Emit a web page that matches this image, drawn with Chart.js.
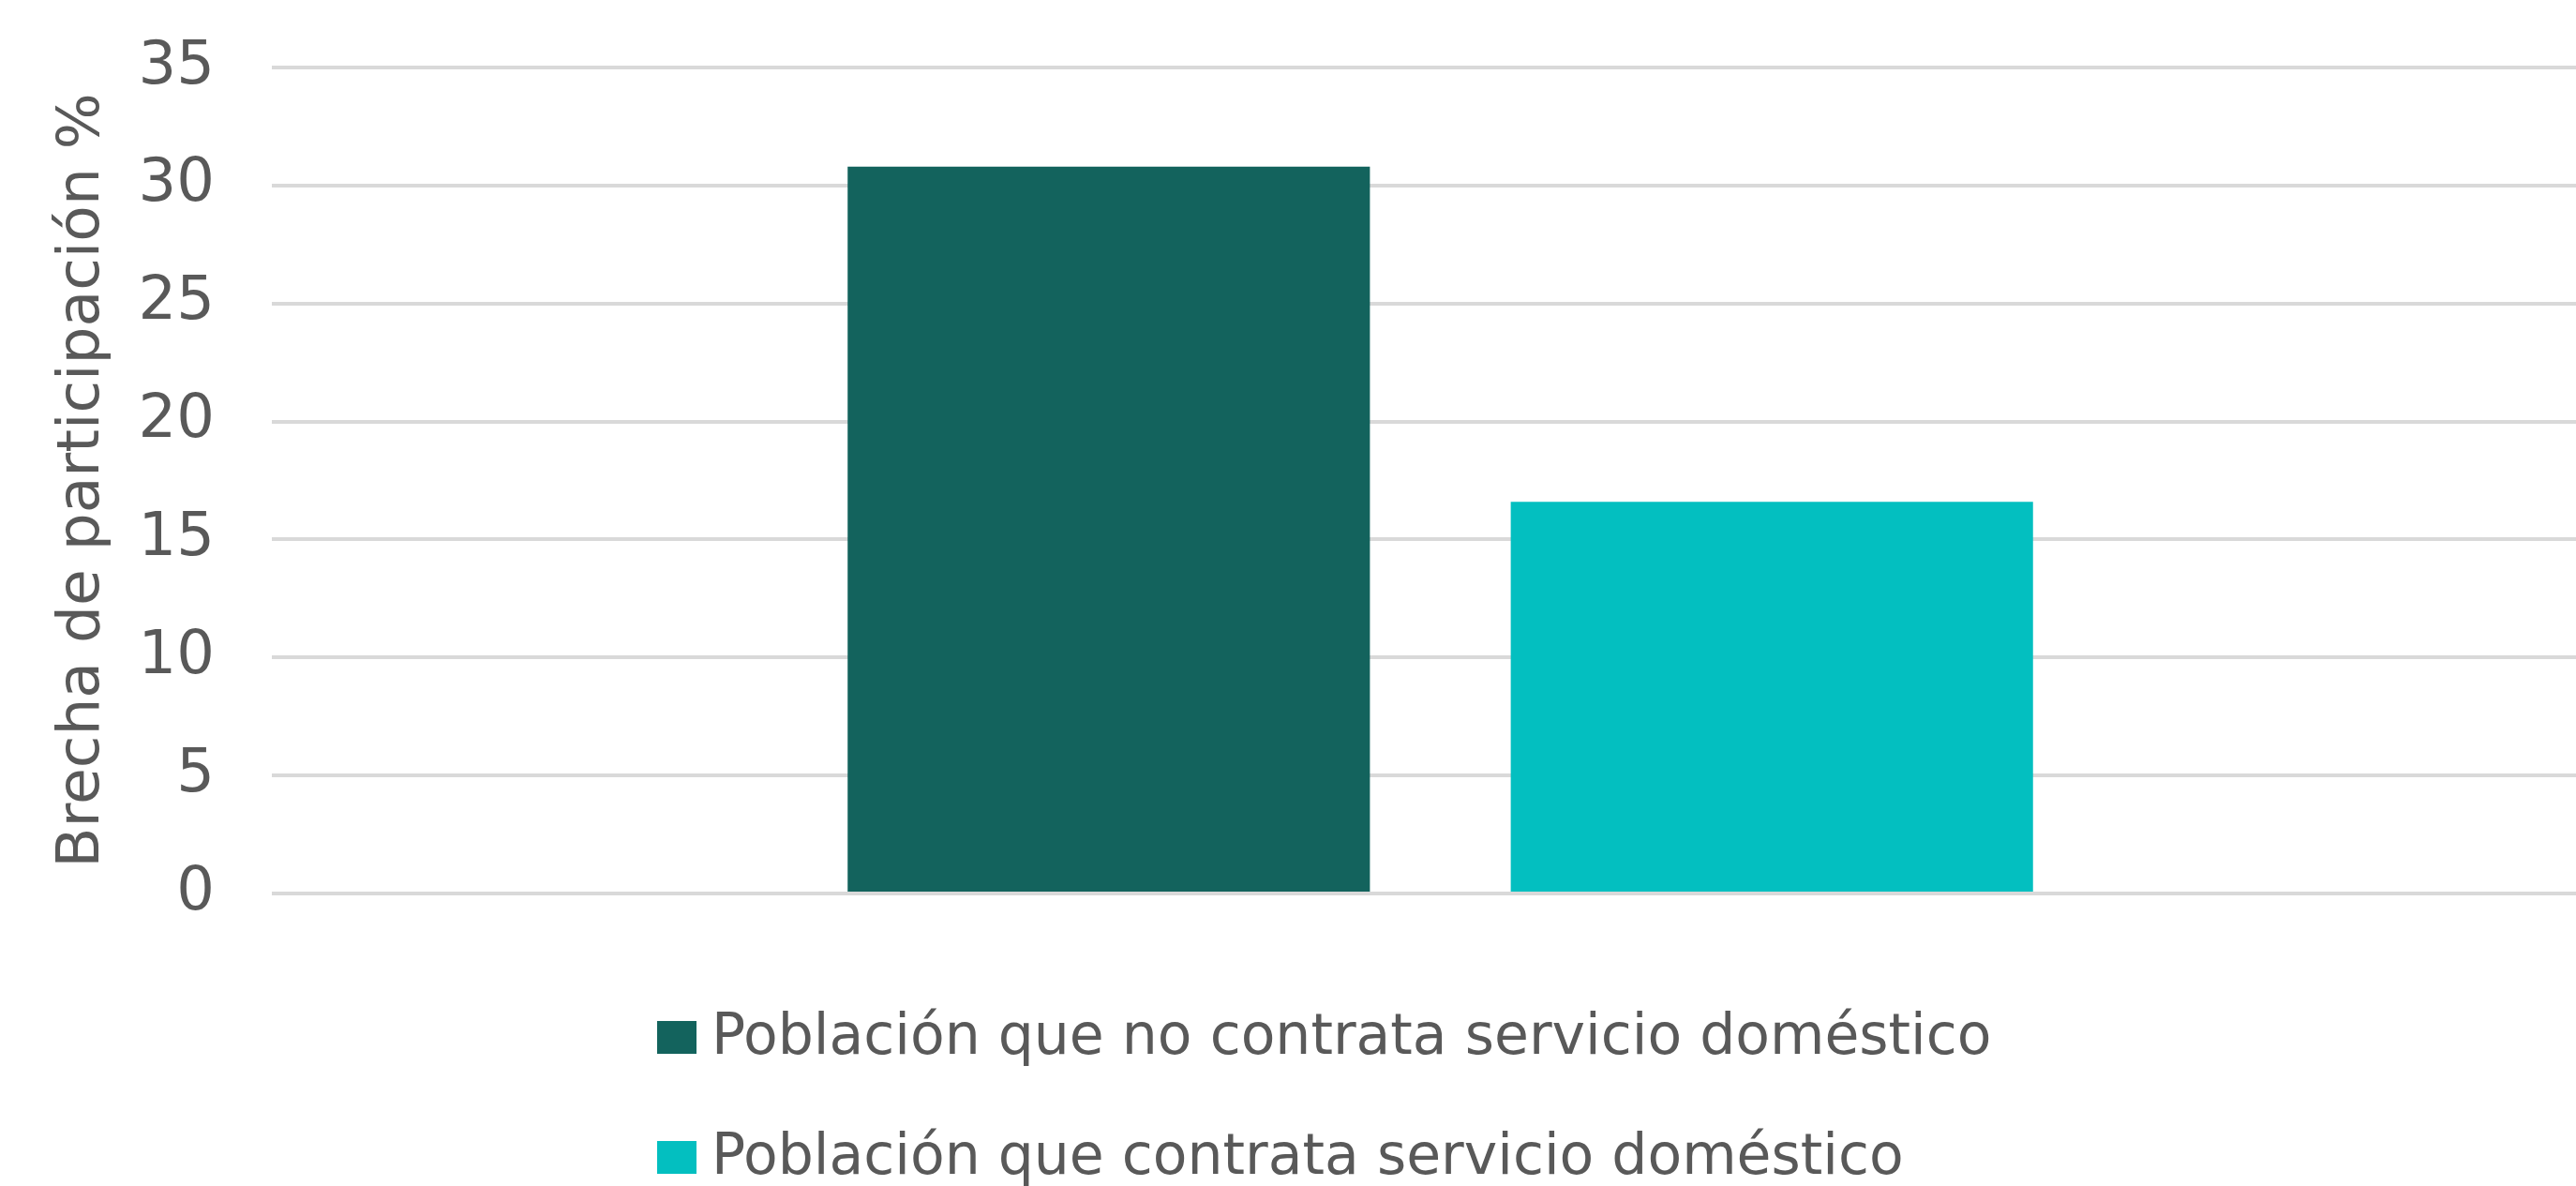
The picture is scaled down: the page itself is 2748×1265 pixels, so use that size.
<!DOCTYPE html>
<html>
<head>
<meta charset="utf-8">
<script src="https://cdn.jsdelivr.net/npm/chart.js@4/dist/chart.umd.min.js"></script>
<style>
  html, body { margin: 0; padding: 0; background: #ffffff; overflow: hidden; width: 2748px; height: 1265px; }
  #wrap { position: absolute; left: 0; top: 0; }
  .lg-row { position: absolute; left: 701px; height: 60px; white-space: nowrap; font-family: "DejaVu Sans", sans-serif; font-size: 60px; line-height: 60px; color: #595959; }
  .lg-box { position: absolute; left: 0; width: 42px; height: 35px; }
  .lg-text { position: absolute; left: 58px; top: 0; }
</style>
</head>
<body>
<div id="wrap"><canvas id="c" width="2783" height="1000"></canvas></div>
<div id="legend"></div>
<script>
// ---- data ----
const categories = ["Brecha de participación"];
const seriesNames = ["Población que no contrata servicio doméstico", "Población que contrata servicio doméstico"];
const noContrata = [30.8];
const contrata = [16.6];
const yTicks = [0, 5, 10, 15, 20, 25, 30, 35];
const yTitle = "Brecha de participación %";
const colors = ["#13635d", "#03bfc0"];

const textColor = "#595959";

const chart = new Chart(document.getElementById("c"), {
  type: "bar",
  data: {
    labels: categories,
    datasets: [
      { label: seriesNames[0], data: noContrata, backgroundColor: colors[0], borderWidth: 0,
        categoryPercentage: 0.5675, barPercentage: 0.7876 },
      { label: seriesNames[1], data: contrata, backgroundColor: colors[1], borderWidth: 0,
        categoryPercentage: 0.5675, barPercentage: 0.7876 }
    ]
  },
  options: {
    responsive: false,
    devicePixelRatio: 1,
    animation: false,
    layout: { padding: { top: 72, bottom: 47, left: 0, right: 0 } },
    plugins: {
      legend: { display: false },
      tooltip: { enabled: false }
    },
    scales: {
      x: {
        display: false,
        grid: { display: false }
      },
      y: {
        min: 0,
        max: 35,
        afterBuildTicks: (scale) => { scale.ticks = yTicks.map(v => ({ value: v })); },
        afterFit: (scale) => { scale.width = 290; scale.paddingTop = 0; scale.paddingBottom = 0; },
        border: { display: false },
        grid: { color: "#d9d9d9", lineWidth: 4, drawTicks: false },
        ticks: {
          color: textColor,
          font: { family: "DejaVu Sans", size: 64 },
          padding: 61
        },
        title: {
          display: true,
          text: yTitle,
          color: textColor,
          font: { family: "DejaVu Sans", size: 63 },
          padding: { top: 51, bottom: 0 }
        }
      }
    }
  }
});

// HTML legend built from the chart's datasets
const legend = document.getElementById("legend");
const rowTops = [1073, 1201];
chart.data.datasets.forEach((ds, i) => {
  const row = document.createElement("div");
  row.className = "lg-row";
  row.style.top = rowTops[i] + "px";
  const box = document.createElement("div");
  box.className = "lg-box";
  box.style.background = ds.backgroundColor;
  box.style.top = "16px";
  const txt = document.createElement("span");
  txt.className = "lg-text";
  txt.textContent = ds.label;
  row.appendChild(box);
  row.appendChild(txt);
  legend.appendChild(row);
});
</script>
</body>
</html>
